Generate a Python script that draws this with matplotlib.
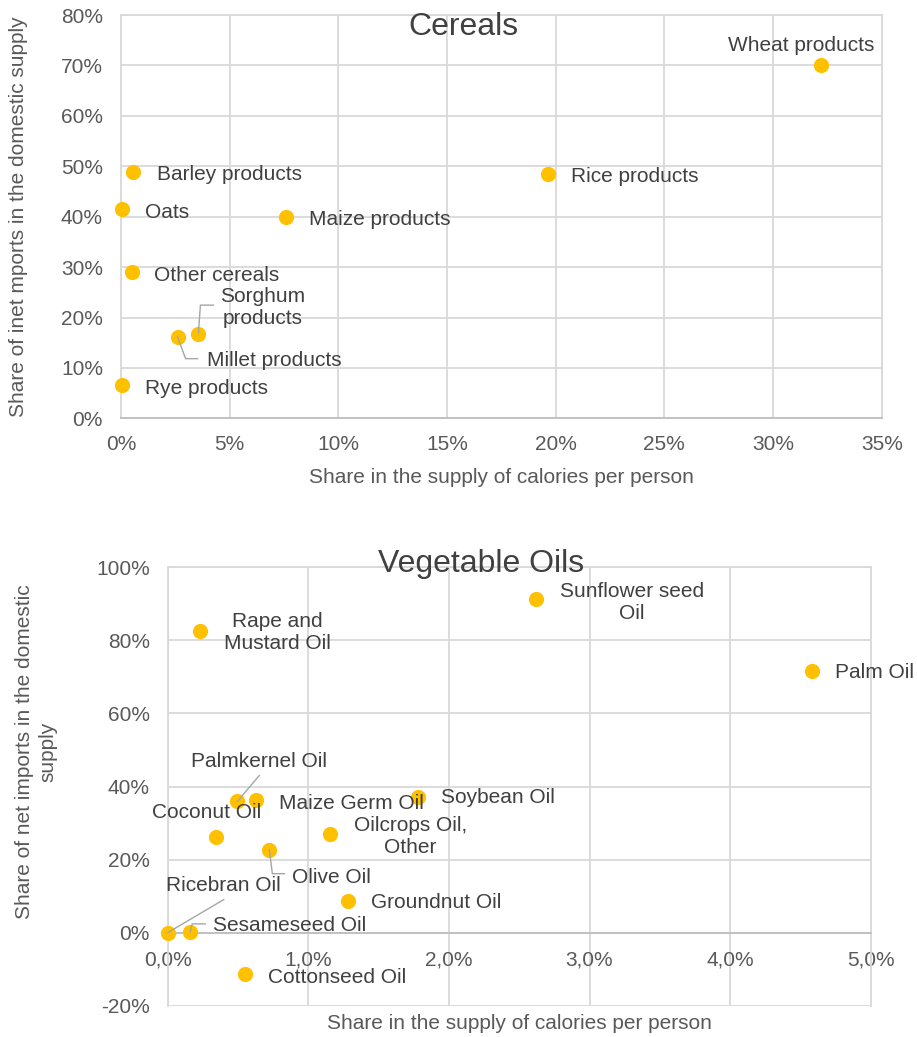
import numpy as np
import matplotlib
matplotlib.use("Agg")
import matplotlib.pyplot as plt
from matplotlib.ticker import FuncFormatter, MultipleLocator

plt.rcParams['font.family'] = ['Liberation Sans', 'DejaVu Sans']

# cereals: share in calorie supply (%), share of net imports (%)
cer_names = ['Wheat products', 'Rice products', 'Barley products', 'Oats',
             'Maize products', 'Other cereals', 'Sorghum\nproducts',
             'Millet products', 'Rye products']
cer_x = [32.2, 19.66, 0.57, 0.06, 7.59, 0.51, 3.56, 2.6, 0.03]
cer_y = [70.1, 48.5, 48.9, 41.5, 40.0, 29.0, 16.7, 16.2, 6.6]

# vegetable oils
oil_names = ['Rape and\nMustard Oil', 'Sunflower seed\nOil', 'Palm Oil',
             'Palmkernel Oil', 'Maize Germ Oil', 'Soybean Oil', 'Coconut Oil',
             'Oilcrops Oil,\nOther', 'Olive Oil', 'Ricebran Oil',
             'Groundnut Oil', 'Sesameseed Oil', 'Cottonseed Oil']
oil_x = [0.232, 2.62, 4.58, 0.495, 0.63, 1.78, 0.34, 1.157, 0.723, 0.0,
         1.28, 0.16, 0.55]
oil_y = [82.6, 91.2, 71.7, 35.9, 36.2, 37.0, 26.1, 27.0, 22.7, 0.0,
         8.7, 0.2, -11.4]

GOLD = '#FFC000'
TXT = '#404040'
TICK = '#595959'
GRID = '#D9D9D9'
FS = 15

fig = plt.figure(figsize=(9.17, 10.37), dpi=100)
ax1 = fig.add_axes([0.1320, 0.5966, 0.8295, 0.3889])
ax2 = fig.add_axes([0.1829, 0.0302, 0.7666, 0.4227])


def style(ax):
    ax.set_axisbelow(True)
    ax.grid(True, color=GRID, lw=1.3)
    for s in ax.spines.values():
        s.set_color(GRID)
        s.set_linewidth(1.3)
    ax.spines['bottom'].set_color('#BFBFBF')
    ax.tick_params(length=0, labelsize=FS, labelcolor=TICK)


def leader(ax, x, y, pts):
    # pts: pixel offsets relative to the point
    tr = ax.transData
    px, py = tr.transform((x, y))
    xy = tr.inverted().transform([(px + dx, py + dy) for dx, dy in pts])
    ax.plot(xy[:, 0], xy[:, 1], color='#A6A6A6', lw=1, zorder=4,
            clip_on=False)


# --- Cereals ---
style(ax1)
ax1.scatter(cer_x, cer_y, s=120, color=GOLD, zorder=3, linewidths=0,
            clip_on=False)
ax1.set_xlim(0, 35)
ax1.set_ylim(0, 80)
ax1.xaxis.set_major_locator(MultipleLocator(5))
ax1.yaxis.set_major_locator(MultipleLocator(10))
ax1.xaxis.set_major_formatter(FuncFormatter(lambda v, p: f'{v:.0f}%'))
ax1.yaxis.set_major_formatter(FuncFormatter(lambda v, p: f'{v:.0f}%'))
ax1.tick_params(axis='x', pad=12)
ax1.tick_params(axis='y', pad=13)

# label offsets in pixels (dx, dy, ha)
cer_off = [(-20, 19, 'center'), (23, -3, 'left'), (24, -3, 'left'),
           (23, -3, 'left'), (23, -3, 'left'), (22, -3, 'left'),
           (64, 27, 'center'), (29, -24, 'left'), (23, -3, 'left')]
for n, x, y, (dx, dy, ha) in zip(cer_names, cer_x, cer_y, cer_off):
    ax1.annotate(n, (x, y), xytext=(dx, dy), textcoords='offset pixels',
                 ha=ha, va='center', fontsize=FS, color=TXT,
                 linespacing=1.2)

ax1.set_xlabel('Share in the supply of calories per person', fontsize=FS,
               color=TICK)
ax1.xaxis.set_label_coords(0.5, -0.122)
ax1.set_ylabel('Share of inet mports in the domestic supply', fontsize=FS,
               color=TICK)
ax1.yaxis.set_label_coords(-0.122, 0.5)
ax1.text(0.45, 0.97, 'Cereals', transform=ax1.transAxes, ha='center',
         va='center', fontsize=23, color=TXT)

# --- Vegetable Oils ---
style(ax2)
ax2.scatter(oil_x, oil_y, s=120, color=GOLD, zorder=3, linewidths=0,
            clip_on=False)
ax2.set_xlim(0, 5)
ax2.set_ylim(-20, 100)
ax2.xaxis.set_major_locator(MultipleLocator(1))
ax2.yaxis.set_major_locator(MultipleLocator(20))
ax2.xaxis.set_major_formatter(
    FuncFormatter(lambda v, p: f'{v:.1f}%'.replace('.', ',')))
ax2.yaxis.set_major_formatter(FuncFormatter(lambda v, p: f'{v:.0f}%'))
ax2.spines['bottom'].set_position(('data', 0))
ax2.tick_params(axis='x', pad=13)
ax2.tick_params(axis='y', pad=13)

oil_off = [(77, -2, 'center'), (96, -3, 'center'), (23, -2, 'left'),
           (22, 40, 'center'), (23, -3, 'left'), (23, 0, 'left'),
           (-9, 25, 'center'), (80, -3, 'center'), (23, -28, 'left'),
           (56, 47, 'center'), (23, -2, 'left'), (23, 6, 'left'),
           (23, -3, 'left')]
for n, x, y, (dx, dy, ha) in zip(oil_names, oil_x, oil_y, oil_off):
    ax2.annotate(n, (x, y), xytext=(dx, dy), textcoords='offset pixels',
                 ha=ha, va='center', fontsize=FS, color=TXT,
                 linespacing=1.2)

ax2.set_xlabel('Share in the supply of calories per person', fontsize=FS,
               color=TICK)
ax2.xaxis.set_label_coords(0.5, -0.018)
ax2.set_ylabel('Share of net imports in the domestic\nsupply', fontsize=FS,
               color=TICK, linespacing=1.3)
ax2.yaxis.set_label_coords(-0.157, 0.579)
ax2.text(0.446, 1.008, 'Vegetable Oils', transform=ax2.transAxes,
         ha='center', va='center', fontsize=23, color=TXT)

fig.canvas.draw()
# Sorghum, Millet
leader(ax1, cer_x[6], cer_y[6], [(0, 1), (2, 29), (15, 29)])
leader(ax1, cer_x[7], cer_y[7], [(0, 0), (8, -22), (20, -22)])
# Palmkernel, Olive, Ricebran, Sesameseed
leader(ax2, oil_x[3], oil_y[3], [(0, 0), (22, 26)])
leader(ax2, oil_x[8], oil_y[8], [(0, 0), (3, -24), (15, -24)])
leader(ax2, oil_x[9], oil_y[9], [(0, 0), (56, 33)])
leader(ax2, oil_x[11], oil_y[11], [(0, 0), (2, 8), (15, 8)])

fig.savefig('out.png', dpi=100)
